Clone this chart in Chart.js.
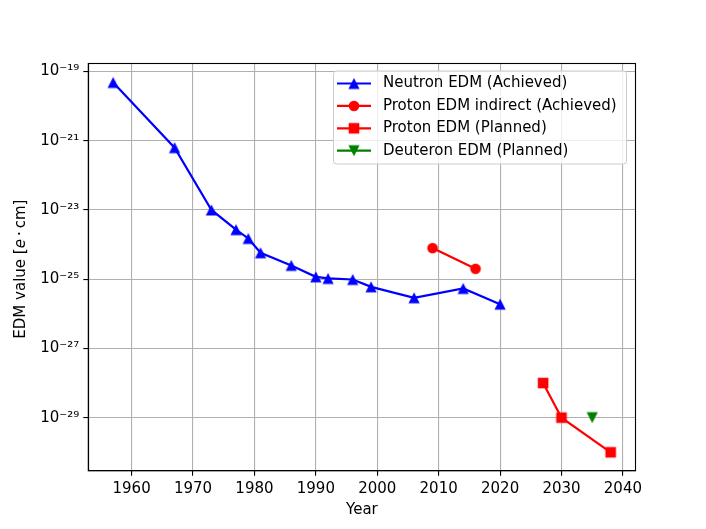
<!DOCTYPE html>
<html>
<head>
<meta charset="utf-8">
<title>EDM limits</title>
<script src="https://cdn.jsdelivr.net/npm/chart.js@4.4.1/dist/chart.umd.min.js"></script>
<style>
    html, body { margin: 0; padding: 0; background: #fff; }
    #wrap { width: 706px; height: 529px; }
</style>
</head>
<body>
<div id="wrap"><canvas id="edmChart" width="706" height="529"></canvas></div>
<script>
// data
const neutronYears = [1957, 1967, 1973, 1977, 1979, 1981, 1986, 1990, 1992, 1996, 1999, 2006, 2014, 2020];
const neutronEdm = [4.8e-20, 6.3e-22, 1e-23, 2.7e-24, 1.5e-24, 5.8e-25, 2.5e-25, 1.17e-25, 1.05e-25, 9.8e-26, 6e-26, 2.9e-26, 5.4e-26, 1.9e-26];

const protonIndirectYears = [2009, 2016];
const protonIndirectEdm = [7.9e-25, 2e-25];

const protonPlannedYears = [2027, 2030, 2038];
const protonPlannedEdm = [1e-28, 1e-29, 1e-30];

const deuteronYears = [2035];
const deuteronEdm = [1e-29];

const yearTicks = [1960, 1970, 1980, 1990, 2000, 2010, 2020, 2030, 2040];
const edmTickExponents = [-29, -27, -25, -23, -21, -19];

const FONT = '"DejaVu Sans", sans-serif';

function toPoints(xs, ys) {
    return xs.map(function (x, i) { return { x: x, y: ys[i] }; });
}

const supMap = { '-': '\u207B', '0': '\u2070', '1': '\u00B9', '2': '\u00B2', '3': '\u00B3',
    '4': '\u2074', '5': '\u2075', '6': '\u2076', '7': '\u2077', '8': '\u2078', '9': '\u2079' };
function sup(n) {
    return String(n).split('').map(function (c) { return supMap[c]; }).join('');
}

// marker images centred on their bounding box, like matplotlib markers
function makeMarker(kind, color) {
    const c = document.createElement('canvas');
    c.width = 14;
    c.height = 14;
    const g = c.getContext('2d');
    const m = 7, h = 5.6;
    g.fillStyle = color;
    g.beginPath();
    if (kind === 'up') {
        g.moveTo(m, m - h); g.lineTo(m + h, m + h); g.lineTo(m - h, m + h);
    } else if (kind === 'down') {
        g.moveTo(m, m + h); g.lineTo(m + h, m - h); g.lineTo(m - h, m - h);
    } else if (kind === 'square') {
        g.rect(m - 5.3, m - 5.3, 10.6, 10.6);
    } else {
        g.arc(m, m, 5.3, 0, Math.PI * 2);
    }
    g.closePath();
    g.fill();
    return c;
}

const series = [
    { label: 'Neutron EDM (Achieved)', xs: neutronYears, ys: neutronEdm, color: '#0000ff', marker: 'up' },
    { label: 'Proton EDM indirect (Achieved)', xs: protonIndirectYears, ys: protonIndirectEdm, color: '#ff0000', marker: 'circle' },
    { label: 'Proton EDM (Planned)', xs: protonPlannedYears, ys: protonPlannedEdm, color: '#ff0000', marker: 'square' },
    { label: 'Deuteron EDM (Planned)', xs: deuteronYears, ys: deuteronEdm, color: '#008000', marker: 'down' }
];
series.forEach(function (s) { s.img = makeMarker(s.marker, s.color); });

// matplotlib-like legend, spines and axis titles
const decorPlugin = {
    id: 'decor',
    afterDraw: function (chart) {
        const ctx = chart.ctx;
        const a = chart.chartArea;
        ctx.save();

        // spines
        ctx.strokeStyle = '#000';
        ctx.lineWidth = 1.1;
        ctx.strokeRect(a.left, a.top, a.right - a.left, a.bottom - a.top);

        // legend box
        const bx = 333.5, by = 71, bw = 293, bh = 93, r = 3;
        ctx.beginPath();
        ctx.moveTo(bx + r, by);
        ctx.arcTo(bx + bw, by, bx + bw, by + bh, r);
        ctx.arcTo(bx + bw, by + bh, bx, by + bh, r);
        ctx.arcTo(bx, by + bh, bx, by, r);
        ctx.arcTo(bx, by, bx + bw, by, r);
        ctx.closePath();
        ctx.fillStyle = 'rgba(255,255,255,0.8)';
        ctx.fill();
        ctx.strokeStyle = '#cccccc';
        ctx.lineWidth = 1;
        ctx.stroke();

        ctx.font = '15px ' + FONT;
        ctx.textBaseline = 'middle';
        ctx.textAlign = 'left';
        series.forEach(function (s, i) {
            const yy = 83.5 + i * 22.4;
            ctx.strokeStyle = s.color;
            ctx.lineWidth = 2.2;
            ctx.beginPath();
            ctx.moveTo(337, yy);
            ctx.lineTo(371, yy);
            ctx.stroke();
            ctx.drawImage(s.img, 354 - 7, yy - 7);
            ctx.fillStyle = '#000';
            ctx.fillText(s.label, 383, yy);
        });

        // x title
        ctx.fillStyle = '#000';
        ctx.textAlign = 'center';
        ctx.textBaseline = 'alphabetic';
        ctx.fillText('Year', (a.left + a.right) / 2, 514);

        // y title with italic e
        const parts = [
            { t: 'EDM value [', f: '15px ' + FONT },
            { t: 'e', f: 'italic 15px ' + FONT },
            { t: '\u2009\u00B7\u2009', f: '15px ' + FONT },
            { t: 'cm]', f: '15px ' + FONT }
        ];
        let total = 0;
        parts.forEach(function (p) { ctx.font = p.f; p.w = ctx.measureText(p.t).width; total += p.w; });
        ctx.translate(24.5, (a.top + a.bottom) / 2 + 2);
        ctx.rotate(-Math.PI / 2);
        ctx.textAlign = 'left';
        let px = -total / 2;
        parts.forEach(function (p) { ctx.font = p.f; ctx.fillText(p.t, px, 0); px += p.w; });

        ctx.restore();
    }
};

document.addEventListener('DOMContentLoaded', function () {
    const ctx = document.getElementById('edmChart').getContext('2d');

    const datasets = series.map(function (s) {
        return {
            label: s.label,
            data: toPoints(s.xs, s.ys),
            borderColor: s.color,
            backgroundColor: s.color,
            borderWidth: 2.2,
            pointStyle: s.img,
            pointRadius: 6,
            pointHoverRadius: 6,
            tension: 0
        };
    });

    new Chart(ctx, {
        type: 'line',
        data: { datasets: datasets },
        options: {
            responsive: false,
            animation: false,
            events: [],
            layout: { padding: { left: 0, top: 63.5, right: 70.5, bottom: 0 } },
            plugins: {
                legend: { display: false },
                tooltip: { enabled: false }
            },
            scales: {
                x: {
                    type: 'linear',
                    min: 1952.95,
                    max: 2042.05,
                    afterBuildTicks: function (scale) {
                        scale.ticks = yearTicks.map(function (v) { return { value: v }; });
                    },
                    afterFit: function (scale) { scale.height = 58.2; },
                    grid: { color: '#b0b0b0', lineWidth: 1.1, tickColor: '#000', tickLength: 5 },
                    border: { display: true, color: '#000', width: 1.1 },
                    ticks: {
                        color: '#000',
                        font: { family: FONT, size: 15 },
                        padding: 4,
                        maxRotation: 0,
                        autoSkip: false,
                        callback: function (v) { return String(v); }
                    }
                },
                y: {
                    type: 'logarithmic',
                    min: Math.pow(10, -30.535),
                    max: Math.pow(10, -18.77),
                    afterBuildTicks: function (scale) {
                        scale.ticks = edmTickExponents.map(function (e) { return { value: Math.pow(10, e) }; });
                    },
                    afterFit: function (scale) { scale.width = 88.3; },
                    grid: { color: '#b0b0b0', lineWidth: 1.1, tickColor: '#000', tickLength: 5 },
                    border: { display: true, color: '#000', width: 1.1 },
                    ticks: {
                        color: '#000',
                        font: { family: FONT, size: 15 },
                        padding: 4,
                        autoSkip: false,
                        callback: function (v) {
                            return '10' + sup(Math.round(Math.log10(v)));
                        }
                    }
                }
            }
        },
        plugins: [decorPlugin]
    });
});
</script>
</body>
</html>
